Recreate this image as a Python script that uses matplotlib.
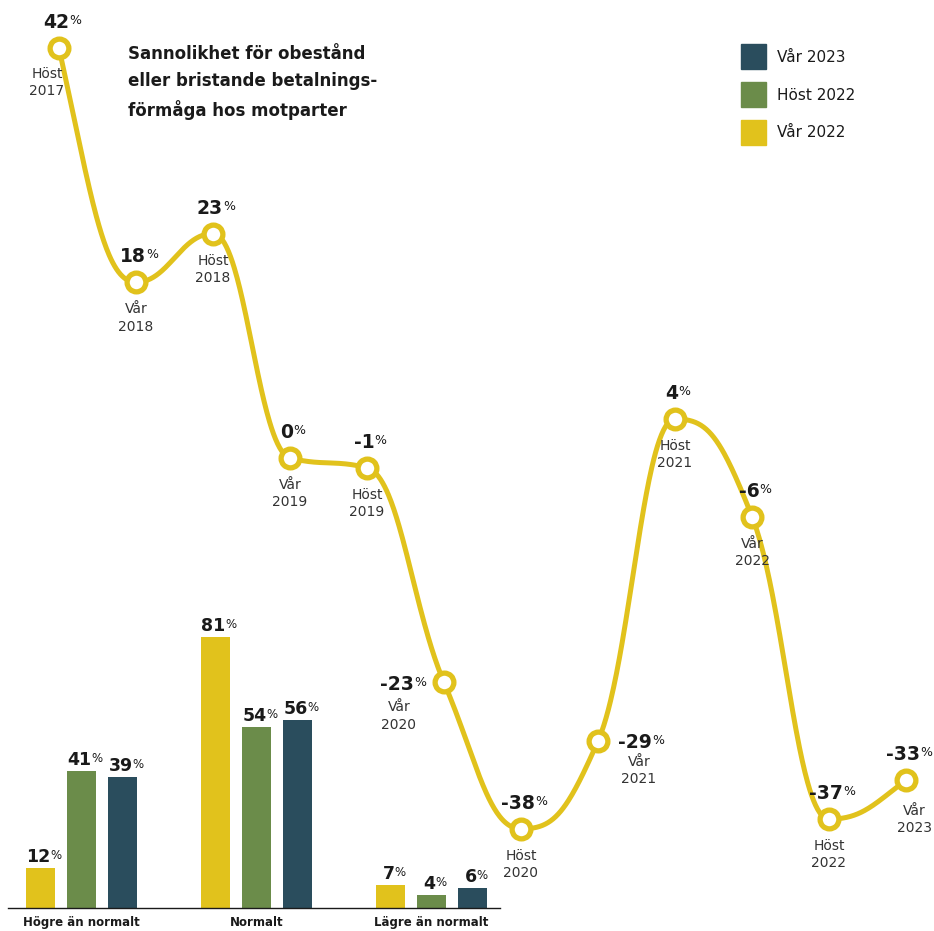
import matplotlib.pyplot as plt
import numpy as np
from matplotlib.patches import Rectangle

# Survey periods and net balance (%) for the line
periods = ["Höst\n2017", "Vår\n2018", "Höst\n2018", "Vår\n2019", "Höst\n2019",
           "Vår\n2020", "Höst\n2020", "Vår\n2021", "Höst\n2021", "Vår\n2022",
           "Höst\n2022", "Vår\n2023"]
net_balance = [42, 18, 23, 0, -1, -23, -38, -29, 4, -6, -37, -33]

# Distribution of answers for the three latest surveys
groups = ["Högre än normalt", "Normalt", "Lägre än normalt"]
var_2022 = [12, 81, 7]
host_2022 = [41, 54, 4]
var_2023 = [39, 56, 6]

series_labels = ["Vår 2023", "Höst 2022", "Vår 2022"]

YELLOW = "#E1C21C"
GREEN = "#6B8C4A"
NAVY = "#2A4D5D"
INK = "#1a1a1a"
GREY = "#333333"

W, H = 934, 931


def smooth_path(x, y, handle=0.42, n=80):
    """Cubic Bezier through the points: monotone tangents, long horizontal handles."""
    x = np.asarray(x, float)
    y = np.asarray(y, float)
    h = np.diff(x)
    s = np.diff(y) / h
    m = np.zeros_like(y)
    for i in range(1, len(y) - 1):
        s0, s1 = s[i - 1], s[i]
        p = (s0 * h[i] + s1 * h[i - 1]) / (h[i - 1] + h[i])
        m[i] = (np.sign(s0) + np.sign(s1)) * min(abs(s0), abs(s1), 0.5 * abs(p))
    m[0] = (3 * s[0] - m[1]) / 2
    m[-1] = (3 * s[-1] - m[-2]) / 2
    t = np.linspace(0, 1, n)[:, None]
    out = []
    for i in range(len(y) - 1):
        d = handle * h[i]
        p0 = np.array([x[i], y[i]])
        p1 = np.array([x[i] + d, y[i] + m[i] * d])
        p2 = np.array([x[i + 1] - d, y[i + 1] - m[i + 1] * d])
        p3 = np.array([x[i + 1], y[i + 1]])
        out.append((1 - t)**3 * p0 + 3 * (1 - t)**2 * t * p1
                   + 3 * (1 - t) * t**2 * p2 + t**3 * p3)
    pts = np.vstack(out)
    return pts[:, 0], pts[:, 1]


def value_label(ax, x, y, value, dx, dy, ha="center", size=13.5, pct_size=9):
    num = ax.annotate(f"{value}", xy=(x, y), xytext=(dx, dy), textcoords="offset pixels",
                      ha=ha, va="baseline", fontsize=size, fontweight="bold", color=INK)
    ax.annotate("%", xy=(1.0, 1.0), xycoords=num, xytext=(0, -1), textcoords="offset pixels",
                ha="left", va="top", fontsize=pct_size, color=INK)


fig = plt.figure(figsize=(W / 100, H / 100), dpi=100)

# ---- bar chart (bottom left) ----
px_per_unit = 3.35
bar_ax = fig.add_axes([8 / W, (H - 908) / H, 492 / W, 308 / H])
bar_ax.patch.set_alpha(0)
xg = np.arange(len(groups))
step = 41 / 175
bw = 29 / 175
for off, vals, col in [(-step, var_2022, YELLOW), (0, host_2022, GREEN), (step, var_2023, NAVY)]:
    bar_ax.bar(xg + off, vals, width=bw, color=col)
    for xb, v in zip(xg + off, vals):
        value_label(bar_ax, xb, v, v, -2, 6, size=12.5, pct_size=8.5)
bar_ax.set_xlim((8 - 81.5) / 175, (500 - 81.5) / 175)
bar_ax.set_ylim(0, 308 / px_per_unit)
bar_ax.set_xticks(xg)
bar_ax.set_xticklabels(groups, fontsize=8.5, fontweight="bold", color=INK)
bar_ax.tick_params(axis="x", length=0, pad=6)
bar_ax.set_yticks([])
for side in ["top", "left", "right"]:
    bar_ax.spines[side].set_visible(False)
bar_ax.spines["bottom"].set_linewidth(1.0)
bar_ax.spines["bottom"].set_color(INK)

# ---- line chart (full figure) ----
ax = fig.add_axes([0, 0, 1, 1])
ax.patch.set_alpha(0)
ax.axis("off")
x0, dxp = 59, 77
scale = 9.76
ax.set_xlim(-x0 / dxp, (W - x0) / dxp)
ax.set_ylim((458 - H) / scale, 458 / scale)

idx = np.arange(len(net_balance))
cx, cy = smooth_path(idx, net_balance)
ax.plot(cx, cy, color=YELLOW, lw=3.6, solid_capstyle="round", zorder=2)
ax.plot(idx, net_balance, "o", ms=13.5, mfc="white", mec=YELLOW, mew=3.8, zorder=3)

# where each value label sits: (dx, dy, ha) in pixels from the point
value_pos = {5: (-30, -8, "right"), 7: (20, -7, "left")}
period_pos = {0: (-12, -19), 5: (-45, -18), 7: (41, -14), 11: (8, -24)}
for i, (p, v) in enumerate(zip(periods, net_balance)):
    dx, dy, ha = value_pos.get(i, (-3, 20, "center"))
    value_label(ax, i, v, v, dx, dy, ha=ha)
    pdx, pdy = period_pos.get(i, (0, -20))
    ax.annotate(p, xy=(i, v), xytext=(pdx, pdy), textcoords="offset pixels",
                ha="center", va="top", fontsize=10, color=GREY, linespacing=1.3)

fig.text(128 / W, 1 - 45 / H,
         "Sannolikhet för obestånd\neller bristande betalnings-\nförmåga hos motparter",
         ha="left", va="top", fontsize=12, fontweight="bold", color=INK,
         linespacing=1.62)

# legend: colour squares with labels
for k, (lab, col) in enumerate(zip(series_labels, [NAVY, GREEN, YELLOW])):
    top = 44 + 38 * k
    fig.patches.append(Rectangle((741 / W, 1 - (top + 25) / H), 25 / W, 25 / H,
                                 transform=fig.transFigure, color=col))
    fig.text(777 / W, 1 - (top + 13) / H, lab, ha="left", va="center",
             fontsize=11, color=INK)

fig.savefig("out.png", dpi=100)
